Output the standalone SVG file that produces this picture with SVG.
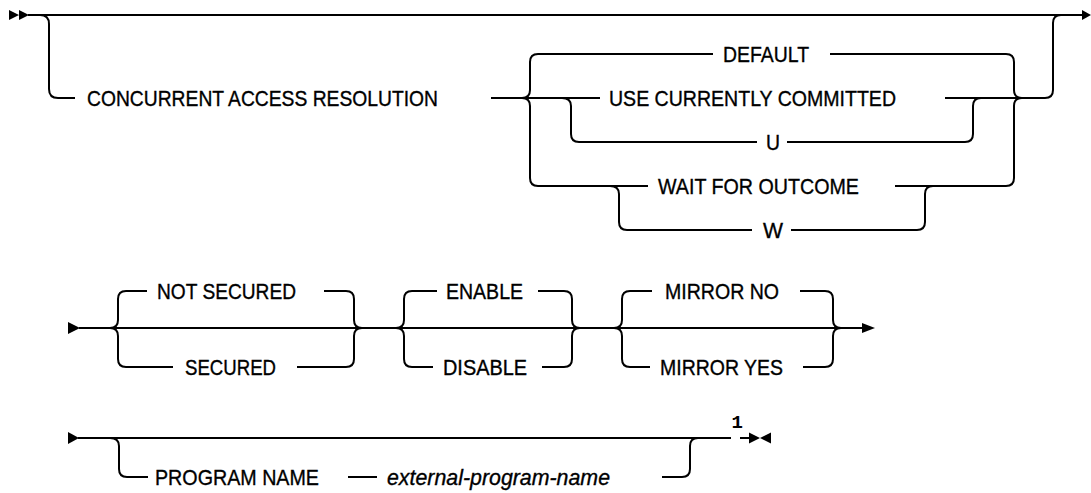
<svg xmlns="http://www.w3.org/2000/svg" width="1091" height="493" viewBox="0 0 1091 493">
<style>
.c{fill:none;stroke:#000;stroke-width:2}
.m{fill:#000;stroke:none}
.t{font-family:"Liberation Sans",Arial,sans-serif;font-size:22px;fill:#000;stroke:#000;stroke-width:0.35}
.i{font-style:italic}
.f{font-family:"Liberation Mono","DejaVu Sans Mono",monospace;font-size:19px;font-weight:bold;fill:#000}
</style>
<rect width="1091" height="493" fill="#fff"/>
<g id="connectors">
<path class="m" d="M9,10 L19,15 L9,20 Z M19,10 L29,15 L19,20 Z"/>
<path class="c" d="M28,15 H1083"/>
<path class="m" d="M1082,10 L1091,15 L1082,20 Z"/>
<path class="c" d="M40,15 Q49,15 49,24 V89 Q49,98 58,98 H75"/>
<path class="c" d="M491,98 H600"/>
<path class="c" d="M522,98 Q530,98 530,90 V62 Q530,54 538,54 H713"/>
<path class="c" d="M522,98 Q530,98 530,106 V178 Q530,186 538,186 H648"/>
<path class="c" d="M562,98 Q571,98 571,106 V134 Q571,142 579,142 H757"/>
<path class="c" d="M787,142 H965 Q973,142 973,134 V106 Q973,98 981,98"/>
<path class="c" d="M830,54 H1006 Q1014,54 1014,62 V90 Q1014,98 1022,98"/>
<path class="c" d="M895,186 H1006 Q1014,186 1014,178 V106 Q1014,98 1022,98"/>
<path class="c" d="M945,98 H1045 Q1053,98 1053,90 V23 Q1053,15 1061,15"/>
<path class="c" d="M610,186 Q619,186 619,194 V222 Q619,230 627,230 H752"/>
<path class="c" d="M791,230 H917 Q925,230 925,222 V194 Q925,186 933,186"/>
<path class="m" d="M68,322 L80,328 L68,334 Z"/>
<path class="c" d="M79,328 H863"/>
<path class="m" d="M862,323 L875,328 L862,333 Z"/>
<path class="c" d="M110,328 Q118,328 118,320 V299 Q118,291 126,291 H147"/>
<path class="c" d="M110,328 Q118,328 118,336 V359 Q118,367 126,367 H173"/>
<path class="c" d="M324,291 H346 Q354,291 354,299 V320 Q354,328 362,328"/>
<path class="c" d="M297,367 H346 Q354,367 354,359 V336 Q354,328 362,328"/>
<path class="c" d="M396,328 Q404,328 404,320 V299 Q404,291 412,291 H437"/>
<path class="c" d="M396,328 Q404,328 404,336 V359 Q404,367 412,367 H433"/>
<path class="c" d="M538,291 H564 Q572,291 572,299 V320 Q572,328 580,328"/>
<path class="c" d="M542,367 H564 Q572,367 572,359 V336 Q572,328 580,328"/>
<path class="c" d="M614,328 Q622,328 622,320 V299 Q622,291 630,291 H652"/>
<path class="c" d="M614,328 Q622,328 622,336 V359 Q622,367 630,367 H650"/>
<path class="c" d="M800,291 H825 Q833,291 833,299 V320 Q833,328 841,328"/>
<path class="c" d="M803,367 H825 Q833,367 833,359 V336 Q833,328 841,328"/>
<path class="m" d="M68,432 L79,438 L68,444 Z"/>
<path class="c" d="M78,438 H731"/>
<path class="c" d="M110,438 Q119,438 119,446 V469 Q119,477 127,477 H148"/>
<path class="c" d="M348,477 H377"/>
<path class="c" d="M662,477 H682 Q690,477 690,469 V446 Q690,438 698,438"/>
<path class="c" d="M740,438 H750"/>
<path class="m" d="M749,432.5 L760,438 L749,443.5 Z M771,432.5 L760,438 L771,443.5 Z"/>
</g>
<g id="n-concurrent"><text class="t" x="87" y="106" textLength="351" lengthAdjust="spacingAndGlyphs">CONCURRENT ACCESS RESOLUTION</text></g>
<g id="n-default"><text class="t" x="723" y="62" textLength="86" lengthAdjust="spacingAndGlyphs">DEFAULT</text></g>
<g id="n-use"><text class="t" x="609" y="106" textLength="287" lengthAdjust="spacingAndGlyphs">USE CURRENTLY COMMITTED</text></g>
<g id="n-u"><text class="t" x="766" y="150" textLength="14" lengthAdjust="spacingAndGlyphs">U</text></g>
<g id="n-wait"><text class="t" x="658" y="194" textLength="201" lengthAdjust="spacingAndGlyphs">WAIT FOR OUTCOME</text></g>
<g id="n-w"><text class="t" x="763" y="238" textLength="20" lengthAdjust="spacingAndGlyphs">W</text></g>
<g id="n-notsecured"><text class="t" x="157" y="299" textLength="139" lengthAdjust="spacingAndGlyphs">NOT SECURED</text></g>
<g id="n-secured"><text class="t" x="185" y="375" textLength="91" lengthAdjust="spacingAndGlyphs">SECURED</text></g>
<g id="n-enable"><text class="t" x="446" y="299" textLength="77" lengthAdjust="spacingAndGlyphs">ENABLE</text></g>
<g id="n-disable"><text class="t" x="443" y="375" textLength="84" lengthAdjust="spacingAndGlyphs">DISABLE</text></g>
<g id="n-mirrorno"><text class="t" x="665" y="299" textLength="114" lengthAdjust="spacingAndGlyphs">MIRROR NO</text></g>
<g id="n-mirroryes"><text class="t" x="660" y="375" textLength="123" lengthAdjust="spacingAndGlyphs">MIRROR YES</text></g>
<g id="n-programname"><text class="t" x="155" y="485" textLength="164" lengthAdjust="spacingAndGlyphs">PROGRAM NAME</text></g>
<g id="n-external"><text class="t i" x="387" y="485" textLength="223" lengthAdjust="spacingAndGlyphs">external-program-name</text></g>
<g id="n-note"><text class="f" x="731.5" y="428">1</text></g>
</svg>
